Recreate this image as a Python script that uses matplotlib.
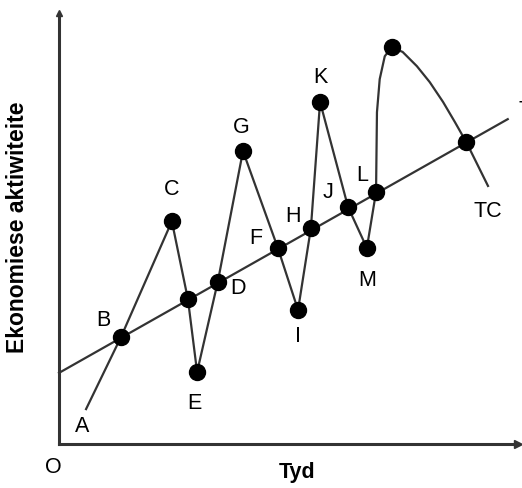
import matplotlib.pyplot as plt

# Business cycle path (arbitrary units 0-100)
cycle_x = [5.9, 13.5, 24.6, 28.1, 30.1, 34.6, 40.1, 47.7, 52.1, 54.9, 56.9,
           63.0, 67.1, 69.1, 69.3, 69.9, 71.0, 72.5, 74.9, 78.0, 80.8, 83.7, 86.3, 88.8, 93.5]
cycle_y = [8.1, 24.8, 51.7, 33.6, 16.7, 37.6, 68.0, 45.5, 31.1, 50.1, 79.4,
           55.0, 45.5, 58.5, 77.0, 84.7, 90.0, 92.1, 91.0, 87.7, 84.0, 79.4, 74.7, 70.0, 59.9]

# Points marked with a dot and their names ("" = unnamed dot)
dot_x = [13.5, 24.6, 28.1, 30.1, 34.6, 40.1, 47.7, 52.1, 54.9, 56.9, 63.0, 67.1, 69.1, 72.5, 88.8]
dot_y = [24.8, 51.7, 33.6, 16.7, 37.6, 68.0, 45.5, 31.1, 50.1, 79.4, 55.0, 45.5, 58.5, 92.1, 70.0]
dot_names = ["B", "C", "", "E", "D", "G", "F", "I", "H", "K", "J", "M", "L", "", "TC"]

# Trend line
trend_x = [0, 97.8]
trend_y = [16.5, 75.4]

# Label offsets from their dot
offsets = {
    "B": (-3.9, 4.2), "C": (0, 7.5), "E": (-0.5, -7.0), "D": (4.4, -1.2),
    "G": (-0.4, 5.8), "F": (-4.8, 2.5), "I": (0, -6.0), "H": (-3.9, 3.0),
    "K": (0, 6.0), "J": (-4.4, 3.7), "M": (0, -7.4), "L": (-2.9, 4.1),
    "TC": (4.7, -15.9),
}

line_col = "#333333"
font = ["Liberation Sans", "DejaVu Sans"]

fig = plt.figure(figsize=(5.22, 4.89), dpi=100)
ax = fig.add_axes([0.113, 0.09, 0.879, 0.881])
ax.set_xlim(0, 100)
ax.set_ylim(0, 100)

# axes with arrows
ax.plot([0, 100], [0, 0], color=line_col, lw=2.2, clip_on=False)
ax.plot([0, 0], [0, 100], color=line_col, lw=2.2, clip_on=False)
ax.plot([100], [0], marker=">", color=line_col, ms=6, clip_on=False)
ax.plot([0], [100], marker="^", color=line_col, ms=4, clip_on=False)

ax.plot(trend_x, trend_y, color=line_col, lw=1.6, clip_on=False)
ax.plot(cycle_x, cycle_y, color=line_col, lw=1.6, clip_on=False, solid_joinstyle="round")
ax.plot(dot_x, dot_y, "o", color="black", ms=11.5, clip_on=False)

# point labels
ax.text(cycle_x[0] - 0.9, cycle_y[0] - 3.9, "A", fontsize=15.5, ha="center", va="center", family=font)
for x, y, name in zip(dot_x, dot_y, dot_names):
    if name:
        dx, dy = offsets[name]
        ax.text(x + dx, y + dy, name, fontsize=15.5, ha="center", va="center", family=font)
ax.text(100.2, 77.7, "T", fontsize=15.5, ha="left", va="center", family=font)

ax.text(-1.3, -5.3, "O", fontsize=15.5, ha="center", va="center", family=font)
ax.text(51.8, -6.3, "Tyd", fontsize=15.5, fontweight="bold", ha="center", va="center", family=font)
fig.text(0.034, 0.535, "Ekonomiese aktiwiteite", fontsize=16.5, fontweight="bold",
         rotation=90, ha="center", va="center", family=font)

ax.axis("off")
fig.savefig("out.png", dpi=100)
